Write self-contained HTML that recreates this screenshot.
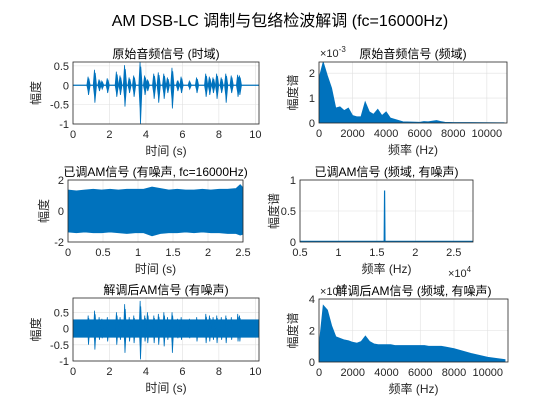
<!DOCTYPE html>
<html><head><meta charset="utf-8"><style>
body{margin:0;background:#fff;}
svg{display:block;font-family:"Liberation Sans","Noto Sans CJK SC",sans-serif;}
</style></head><body>
<svg id="fig" width="560" height="420" xmlns="http://www.w3.org/2000/svg">
<rect width="560" height="420" fill="#fff"/>
<text x="280" y="26" text-anchor="middle" font-size="16" fill="#000">AM DSB-LC 调制与包络检波解调 (fc=16000Hz)</text>
</svg>
<script>
// ---- data ----
const burstT = [0.85,1.2,1.45,1.6,1.9,2.4,2.6,2.85,3.1,3.35,3.7,3.95,4.1,4.45,4.7,5.0,5.2,5.45,5.75,5.95,6.4,6.8,7.3,7.5,7.7,7.9,8.15,8.4,8.7,9.05,9.15];
const burstUp = [0.22,0.4,0.15,0.1,0.18,0.35,0.25,0.52,0.2,0.25,0.6,0.25,0.15,0.3,0.33,0.3,0.2,0.45,0.12,0.22,0.1,0.2,0.3,0.22,0.2,0.3,0.2,0.3,0.25,0.27,0.25];
const burstDn = [-0.25,-0.45,-0.15,-0.1,-0.2,-0.3,-0.25,-0.55,-0.2,-0.3,-1,-0.25,-0.15,-0.35,-0.45,-0.35,-0.2,-0.6,-0.15,-0.2,-0.1,-0.2,-0.3,-0.25,-0.2,-0.35,-0.2,-0.45,-0.2,-0.3,-0.25];
const amT = [0,0.12,0.24,0.36,0.48,0.6,0.72,0.84,0.96,1.08,1.2,1.32,1.44,1.56,1.68,1.8,1.92,2.04,2.16,2.28,2.4,2.46,2.5];
const amUp = [1.35,1.3,1.35,1.4,1.35,1.4,1.35,1.4,1.4,1.4,1.55,1.45,1.35,1.4,1.35,1.35,1.4,1.35,1.4,1.4,1.45,1.7,1.5];
const amDn = [-1.35,-1.4,-1.35,-1.4,-1.4,-1.35,-1.4,-1.45,-1.4,-1.4,-1.6,-1.45,-1.4,-1.4,-1.35,-1.4,-1.35,-1.4,-1.4,-1.45,-1.45,-1.55,-1.5];
const demBase = 0.28;
const demUp = [0.4,0.55,0.35,0.3,0.35,0.5,0.35,0.75,0.35,0.4,0.85,0.4,0.5,0.4,0.45,0.5,0.35,0.5,0.3,0.35,0.3,0.35,0.45,0.4,0.35,0.4,0.35,0.4,0.35,0.45,0.4];
const demDn = [-0.5,-0.65,-0.35,-0.3,-0.4,-0.5,-0.35,-0.75,-0.4,-0.45,-0.95,-0.4,-0.45,-0.45,-0.5,-0.55,-0.35,-0.75,-0.3,-0.35,-0.3,-0.4,-0.45,-0.4,-0.35,-0.45,-0.35,-0.45,-0.35,-0.4,-0.4];
const specF = [0,250,500,750,1000,1250,1500,1750,2000,2250,2500,2750,3000,3250,3500,3750,4000,4250,4500,4750,5000,5500,6000,6250,6500,7000,7250,7500,8000,9000,10000,11025];
const spec1 = [1.8,2.45,1.9,1.4,0.6,0.65,0.5,0.6,0.3,0.25,0.25,0.85,0.45,0.35,0.55,0.3,0.45,0.2,0.15,0.1,0.05,0.04,0.03,0.06,0.05,0.1,0.06,0.03,0.02,0.02,0.015,0.01];
const spec3 = [1.0,3.6,3.3,2.3,1.6,1.5,1.4,1.35,1.25,1.2,1.3,1.65,1.3,1.15,1.1,1.1,1.1,1.1,1.05,1.05,1.05,1.05,1.05,1.05,1.0,1.0,1.0,0.95,0.85,0.55,0.3,0.15];
const amSpecF = [0.5,1.595,1.6,1.605,2.75];
const amSpecV = [0.01,0.01,0.83,0.01,0.01];

const NS='http://www.w3.org/2000/svg';
const svg=document.getElementById('fig');
const BLUE='#0072BD';
function mk(tag,attrs,parent){const e=document.createElementNS(NS,tag);for(const k in attrs)e.setAttribute(k,attrs[k]);(parent||svg).appendChild(e);return e;}

function axes(o){
  const g=mk('g',{});
  
  
  const sx=v=>o.x0+(v-o.xmin)/(o.xmax-o.xmin)*(o.x1-o.x0);
  const sy=v=>o.y1-(v-o.ymin)/(o.ymax-o.ymin)*(o.y1-o.y0);
  mk('rect',{x:o.x0,y:o.y0,width:o.x1-o.x0,height:o.y1-o.y0,fill:'#fff'},g);
  o.xt.forEach((v,i)=>{
    const X=sx(v);
    mk('line',{x1:X,x2:X,y1:o.y0,y2:o.y1,stroke:'#e0e0e0','stroke-width':0.6},g);
    const t=mk('text',{x:X,y:o.y1+14,'text-anchor':'middle','font-size':11,fill:'#262626'},g);
    t.textContent=o.xl[i];
  });
  o.yt.forEach((v,i)=>{
    const Y=sy(v);
    mk('line',{x1:o.x0,x2:o.x1,y1:Y,y2:Y,stroke:'#e0e0e0','stroke-width':0.6},g);
    const t=mk('text',{x:o.x0-4,y:Y+4,'text-anchor':'end','font-size':11,fill:'#262626'},g);
    t.textContent=o.yl[i];
  });
  const cp='c'+o.name;
  const cl=mk('clipPath',{id:cp},g);
  mk('rect',{x:o.x0,y:o.y0,width:o.x1-o.x0,height:o.y1-o.y0},cl);
  const pg=mk('g',{'clip-path':'url(#'+cp+')'},g);
  o.draw(pg,sx,sy);
  mk('rect',{x:o.x0,y:o.y0,width:o.x1-o.x0,height:o.y1-o.y0,fill:'none',stroke:'#262626','stroke-width':0.8},g);
  const tt=mk('text',{x:(o.x0+o.x1)/2,y:o.y0-4,'text-anchor':'middle','font-size':12,fill:'#000'},g);
  tt.textContent=o.title;
  const xl=mk('text',{x:(o.x0+o.x1)/2,y:o.y1+31,'text-anchor':'middle','font-size':12,fill:'#262626'},g);
  xl.textContent=o.xlabel;
  const yx=o.x0-(o.ylOff||30), yy=(o.y0+o.y1)/2;
  const yl=mk('text',{x:yx,y:yy,'text-anchor':'middle','font-size':12,fill:'#262626',transform:'rotate(-90 '+yx+' '+yy+')'},g);
  yl.textContent=o.ylabel;
  if(o.exp){const e=mk('text',{x:o.expX,y:o.expY,'font-size':11,fill:'#262626'},g);e.textContent='×10';const s=mk('tspan',{dy:-5,'font-size':8},e);s.textContent=o.exp;}
  return g;
}
function bursts(pg,sx,sy,up,dn,w){
  burstT.forEach((t,i)=>{
    const p=mk('path',{d:`M${sx(t-w)},${sy(0)} L${sx(t-w/4)},${sy(up[i])} L${sx(t)},${sy(up[i]*0.5)} L${sx(t+w/5)},${sy(up[i]*0.8)} L${sx(t+w)},${sy(0)} L${sx(t+w/5)},${sy(dn[i]*0.8)} L${sx(t)},${sy(dn[i])} L${sx(t-w/4)},${sy(dn[i]*0.6)} Z`,fill:BLUE,stroke:BLUE,'stroke-width':0.8},pg);
    
    
  });
}
function area(pg,sx,sy,xs,ys,base){
  let d=`M${sx(xs[0])},${sy(base)}`;
  xs.forEach((x,i)=>d+=` L${sx(x)},${sy(ys[i])}`);
  d+=` L${sx(xs[xs.length-1])},${sy(base)} Z`;
  return mk('path',{d,fill:BLUE,stroke:BLUE,'stroke-width':0.8},pg);
}

axes({name:'audio-time-axes',x0:73,x1:259,y0:62,y1:124,xmin:0,xmax:10.2,ymin:-1,ymax:0.6,
  xt:[0,2,4,6,8,10],xl:['0','2','4','6','8','10'],yt:[-1,-0.5,0,0.5],yl:['-1','-0.5','0','0.5'],
  title:'原始音频信号 (时域)',xlabel:'时间 (s)',ylabel:'幅度',ylOff:33,
  draw:(pg,sx,sy)=>{mk('line',{x1:sx(0),x2:sx(10.2),y1:sy(0),y2:sy(0),stroke:BLUE,'stroke-width':1.2},pg);bursts(pg,sx,sy,burstUp,burstDn,0.09);}});

axes({name:'audio-spectrum-axes',x0:319,x1:507,y0:62,y1:123,xmin:0,xmax:11200,ymin:0,ymax:2.45,
  xt:[0,2000,4000,6000,8000,10000],xl:['0','2000','4000','6000','8000','10000'],yt:[0,1,2],yl:['0','1','2'],
  title:'原始音频信号 (频域)',xlabel:'频率 (Hz)',ylabel:'幅度谱',ylOff:22,exp:'-3',expX:320,expY:57,
  draw:(pg,sx,sy)=>{const a=area(pg,sx,sy,specF,spec1,0);}});

axes({name:'am-time-axes',x0:68,x1:243,y0:180,y1:242,xmin:0,xmax:2.5,ymin:-2,ymax:2,
  xt:[0,0.5,1,1.5,2,2.5],xl:['0','0.5','1','1.5','2','2.5'],yt:[-2,0,2],yl:['-2','0','2'],
  title:'已调AM信号 (有噪声, fc=16000Hz)',xlabel:'时间 (s)',ylabel:'幅度',ylOff:20,
  draw:(pg,sx,sy)=>{let d=`M${sx(amT[0])},${sy(amUp[0])}`;amT.forEach((t,i)=>d+=` L${sx(t)},${sy(amUp[i])}`);for(let i=amT.length-1;i>=0;i--)d+=` L${sx(amT[i])},${sy(amDn[i])}`;const p=mk('path',{d:d+' Z',fill:BLUE,stroke:BLUE,'stroke-width':0.8},pg);}});

axes({name:'am-spectrum-axes',x0:300,x1:473,y0:180,y1:242,xmin:0.5,xmax:2.75,ymin:0,ymax:1,
  xt:[0.5,1,1.5,2,2.5],xl:['0.5','1','1.5','2','2.5'],yt:[0,0.5,1],yl:['0','0.5','1'],
  title:'已调AM信号 (频域, 有噪声)',xlabel:'频率 (Hz)',ylabel:'幅度谱',ylOff:22,exp:'4',expX:448,expY:277,
  draw:(pg,sx,sy)=>{let d='';amSpecF.forEach((f,i)=>d+=(i?' L':'M')+sx(f)+','+sy(amSpecV[i]));const p=mk('path',{d,fill:'none',stroke:BLUE,'stroke-width':1.2},pg);}});

axes({name:'demod-time-axes',x0:73,x1:259,y0:298,y1:361,xmin:0,xmax:10.2,ymin:-1,ymax:0.94,
  xt:[0,2,4,6,8,10],xl:['0','2','4','6','8','10'],yt:[-1,-0.5,0,0.5],yl:['-1','-0.5','0','0.5'],
  title:'解调后AM信号 (有噪声)',xlabel:'时间 (s)',ylabel:'幅度',ylOff:33,
  draw:(pg,sx,sy)=>{const r=mk('rect',{x:sx(0),y:sy(demBase),width:sx(10.2)-sx(0),height:sy(-demBase)-sy(demBase),fill:BLUE},pg);bursts(pg,sx,sy,demUp,demDn,0.07);}});

axes({name:'demod-spectrum-axes',x0:319,x1:508,y0:299,y1:362,xmin:0,xmax:11200,ymin:0,ymax:4,
  xt:[0,2000,4000,6000,8000,10000],xl:['0','2000','4000','6000','8000','10000'],yt:[0,2,4],yl:['0','2','4'],
  title:'解调后AM信号 (频域, 有噪声)',xlabel:'频率 (Hz)',ylabel:'幅度谱',ylOff:22,exp:'-4',expX:320,expY:295,
  draw:(pg,sx,sy)=>{const a=area(pg,sx,sy,specF,spec3,0);}});
</script>
</body></html>
